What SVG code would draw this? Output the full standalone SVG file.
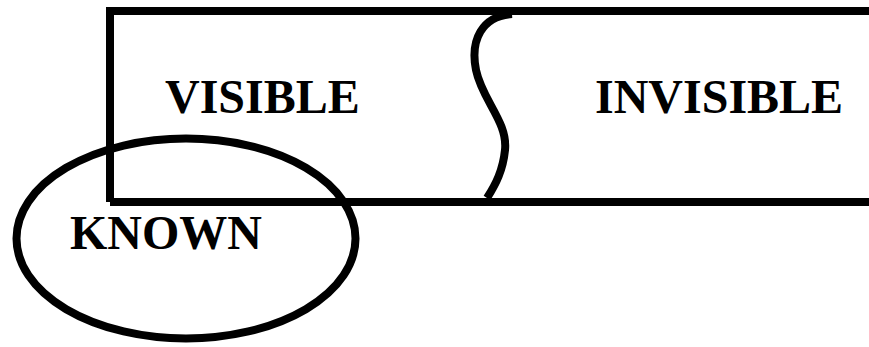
<svg xmlns="http://www.w3.org/2000/svg" width="869" height="347" viewBox="0 0 869 347">
<style>
.ln{fill:none;stroke:#000;stroke-width:8}
.t{font-family:"Liberation Serif","Times New Roman",serif;font-weight:bold;font-size:48px;fill:#000}
</style>
<rect width="869" height="347" fill="#fff"/>
<g id="known-region">
<ellipse class="ln" cx="186" cy="238.5" rx="169.5" ry="100" stroke-width="7"/>
<text class="t" x="70" y="249">KNOWN</text>
</g>
<g id="universe">
<path class="ln" d="M110,202 V11 H880 M110,202 H880"/>
</g>
<g id="connectors">
<path class="ln" stroke-width="7" d="M512,14 C482,16 470,40 476,70 C482,100 508,122 505,150 C503,170 496,184 487,198"/>
</g>
<g id="visible">
<text class="t" x="165" y="113">VISIBLE</text>
</g>
<g id="invisible">
<text class="t" x="595" y="113">INVISIBLE</text>
</g>
</svg>
